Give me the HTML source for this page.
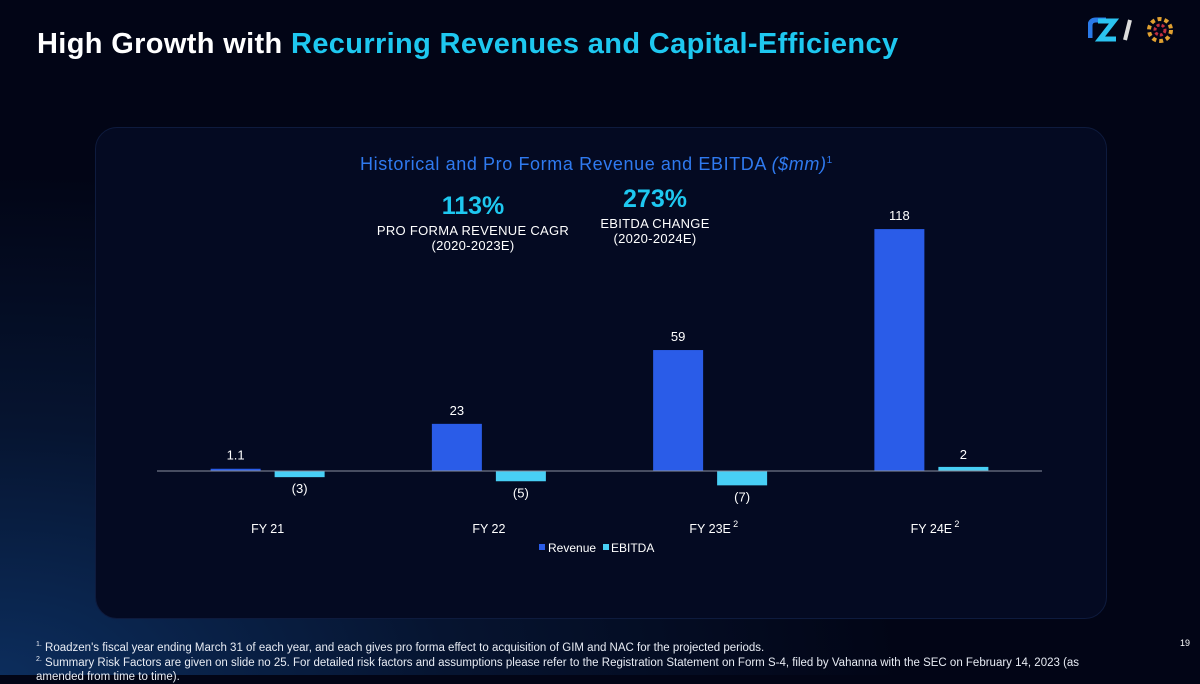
<!DOCTYPE html>
<html><head><meta charset="utf-8"><style>
body{margin:0;width:1200px;height:675px;overflow:hidden;font-family:"Liberation Sans",sans-serif;background:radial-gradient(ellipse 900px 500px at 0% 100%,#0c2d5c 0%,#061430 50%,#020516 100%);position:relative;color:#fff}
.abs{position:absolute}
h1{position:absolute;left:37px;top:28px;margin:0;font-size:29px;font-weight:bold;color:#fff;letter-spacing:0.35px}
h1 span{color:#1ec8f0}
.panel{left:95px;top:127px;width:1010px;height:490px;border-radius:22px;background:#040a22;border:1px solid #0e1b3e}
.fn{left:36px;font-size:11.5px;color:#e8ecf4}
</style></head><body>
<h1>High Growth with <span>Recurring Revenues and Capital-Efficiency</span></h1>
<svg class="abs" style="left:1088px;top:12px" width="100" height="38">
<path d="M2 26 V14 Q2 8 8 8 H18" stroke="#2a7ae8" stroke-width="5" fill="none"/>
<path d="M10 9 H26 L12 27 H28" stroke="#2bc3f0" stroke-width="5" fill="none"/>
<line x1="42" y1="8" x2="37" y2="28" stroke="#ddd" stroke-width="4"/>
<circle cx="72" cy="18" r="11" stroke="#e0a030" stroke-width="4" stroke-dasharray="4 3" fill="none"/>
<circle cx="72" cy="18" r="5" stroke="#c03040" stroke-width="3" stroke-dasharray="3 2" fill="none"/>
</svg>
<div class="abs panel"></div>
<div class="abs" style="left:360px;top:154px;font-size:18px;letter-spacing:0.6px;color:#2f7af0">Historical and Pro Forma Revenue and EBITDA <i>($mm)</i><sup style="font-size:10px">1</sup></div>
<div class="abs" style="left:370px;top:192px;width:206px;text-align:center"><div style="font-size:25px;font-weight:bold;color:#1ec8f0">113%</div><div style="font-size:13px;margin-top:2px;letter-spacing:0.3px">PRO FORMA REVENUE CAGR<br>(2020-2023E)</div></div>
<div class="abs" style="left:570px;top:185px;width:170px;text-align:center"><div style="font-size:25px;font-weight:bold;color:#1ec8f0">273%</div><div style="font-size:13px;margin-top:2px;letter-spacing:0.3px">EBITDA CHANGE<br>(2020-2024E)</div></div>
<svg class="abs" style="left:0;top:0" width="1200" height="675" id="chart"></svg>
<div class="abs" style="left:1180px;top:638px;font-size:9px">19</div>
<div class="abs fn" style="top:641px"><sup style="font-size:7px">1.</sup> Roadzen's fiscal year ending March 31 of each year, and each gives pro forma effect to acquisition of GIM and NAC for the projected periods.</div>
<div class="abs fn" style="top:653px;width:1085px;line-height:14px"><sup style="font-size:7px">2.</sup> Summary Risk Factors are given on slide no 25. For detailed risk factors and assumptions please refer to the Registration Statement on Form S-4, filed by Vahanna with the SEC on February 14, 2023 (as amended from time to time).</div>
<script>
const categories=["FY 21","FY 22","FY 23E","FY 24E"];
const catSup=["","","2","2"];
const revenue=[1.1,23,59,118];
const ebitda=[-3,-5,-7,2];
const revLabels=["1.1","23","59","118"];
const ebLabels=["(3)","(5)","(7)","2"];
const NS="http://www.w3.org/2000/svg",svg=document.getElementById('chart');
const base=471,scale=2.05,x0=157,x1=1042,bw=50;
const y=v=>base-v*scale;
const cx=i=>x0+(x1-x0)/categories.length*(i+0.5);
function mk(t,a,txt){const e=document.createElementNS(NS,t);for(const k in a)e.setAttribute(k,a[k]);if(txt!=null)e.textContent=txt;svg.appendChild(e);return e;}
categories.forEach((c,i)=>{
 const rx=cx(i)-32-bw/2;
 const r=mk('rect',{x:rx,y:Math.min(y(revenue[i]),base),width:bw,height:Math.abs(revenue[i]*scale),fill:'#2a5ce8'});
 
 
 const t1=mk('text',{x:rx+bw/2,y:y(revenue[i])-9,'text-anchor':'middle','font-size':13,fill:'#fff'},revLabels[i]);
 
 
 const ex=cx(i)+32-bw/2;
 const e=mk('rect',{x:ex,y:Math.min(y(ebitda[i]),base),width:bw,height:Math.abs(ebitda[i]*scale),fill:'#48cff5'});
 
 
 const ly=ebitda[i]<0?y(ebitda[i])+16:y(ebitda[i])-8;
 const t2=mk('text',{x:ex+bw/2,y:ly,'text-anchor':'middle','font-size':13,fill:'#fff'},ebLabels[i]);
 
 
 const tc=mk('text',{x:cx(i),y:533,'text-anchor':'middle','font-size':12.5,fill:'#fff'},c);
 
 
 if(catSup[i]){const s=mk('text',{x:cx(i)+23,y:527,'font-size':9,fill:'#fff'},catSup[i]);}
});
const ax=mk('line',{x1:x0,x2:x1,y1:base,y2:base,stroke:'#8a90a0','stroke-width':1});


const l1=mk('rect',{x:539,y:544,width:6,height:6,fill:'#2a5ce8'});
const l2=mk('text',{x:548,y:552,'font-size':12,fill:'#fff'},'Revenue');
const l3=mk('rect',{x:603,y:544,width:6,height:6,fill:'#48cff5'});
const l4=mk('text',{x:611,y:552,'font-size':12,fill:'#fff'},'EBITDA');
</script>
</body></html>
